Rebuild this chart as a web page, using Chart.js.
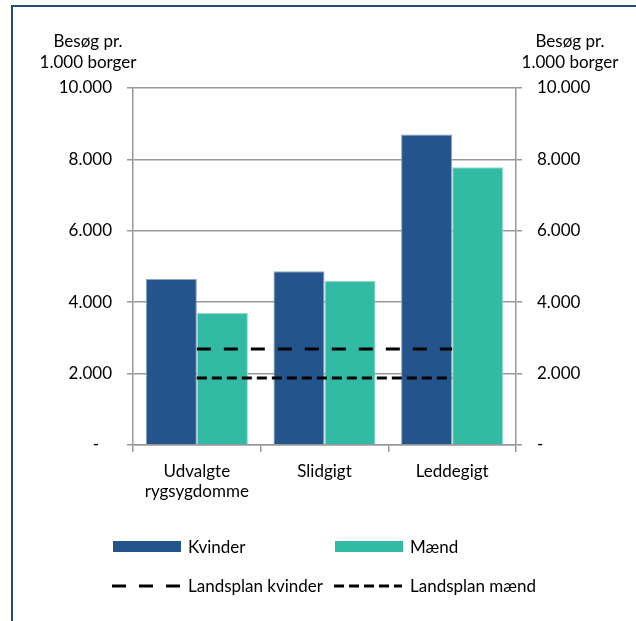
<!DOCTYPE html>
<html>
<head>
<meta charset="utf-8">
<script src="https://cdn.jsdelivr.net/npm/chart.js@4.4.1/dist/chart.umd.min.js"></script>
<style>
  html, body { margin: 0; padding: 0; background: #fff; }
  #wrap { position: relative; width: 636px; height: 621px; overflow: hidden; }
  #frame { position: absolute; left: 11px; top: 5px; right: 0; bottom: 0;
           border-top: 2px solid #1f4e79; border-left: 2px solid #1f4e79; }
  #chart { position: absolute; left: 0; top: 0; }
</style>
</head>
<body>
<div id="wrap">
  <div id="frame"></div>
  <canvas id="chart" width="636" height="621"></canvas>
</div>
<script>
  // data
  var categories = [['Udvalgte', 'rygsygdomme'], 'Slidgigt', 'Leddegigt'];
  var kvinder = [4650, 4870, 8700];
  var maend = [3700, 4600, 7780];
  var landsplanKvinder = [2690, 2690, 2690];
  var landsplanMaend = [1880, 1880, 1880];
  var yTicks = [0, 2000, 4000, 6000, 8000, 10000];
  var yTickLabels = ['-', '2.000', '4.000', '6.000', '8.000', '10.000'];
  var axisTitle = ['Besøg pr.', '1.000 borger'];

  var gridColor = '#989898';
  var font = { family: 'Lato', size: 17 };

  function tickLabel(value, leftSide) {
    var i = yTicks.indexOf(value);
    var txt = i >= 0 ? yTickLabels[i] : '';
    // the zero dash sits a bit further from the axis on the left side
    if (leftSide && txt === '-') txt = '-   ';
    return txt;
  }

  var titlesAndLegend = {
    id: 'titlesAndLegend',
    afterDraw: function (chart) {
      var ctx = chart.ctx;
      ctx.save();
      ctx.font = '17px Lato';
      ctx.fillStyle = '#000';
      ctx.textAlign = 'center';
      ctx.textBaseline = 'alphabetic';
      [88, 570].forEach(function (cx) {
        ctx.fillText(axisTitle[0], cx, 47);
        ctx.fillText(axisTitle[1], cx, 68);
      });

      var slots = [[112, 547], [334, 547], [112, 586], [334, 586]];
      ctx.textAlign = 'left';
      ctx.textBaseline = 'middle';
      chart.data.datasets.forEach(function (ds, i) {
        var x = slots[i][0], y = slots[i][1];
        if (ds.type === 'line') {
          ctx.strokeStyle = ds.borderColor;
          ctx.lineWidth = ds.borderWidth;
          ctx.setLineDash(ds.borderDash);
          ctx.beginPath();
          ctx.moveTo(x, y);
          ctx.lineTo(x + 68, y);
          ctx.stroke();
          ctx.setLineDash([]);
        } else {
          ctx.fillStyle = ds.backgroundColor;
          ctx.fillRect(x + 1, y - 6, 68, 11);
        }
        ctx.fillStyle = '#000';
        ctx.fillText(ds.label, x + 76, y + 1);
      });
      ctx.restore();
    }
  };

  var chart = new Chart(document.getElementById('chart'), {
    type: 'bar',
    data: {
      labels: categories,
      datasets: [
        {
          label: 'Kvinder',
          data: kvinder,
          backgroundColor: '#23548c',
          borderColor: '#8ea4c4',
          borderWidth: 1,
          categoryPercentage: 0.8,
          barPercentage: 1.0,
          order: 2
        },
        {
          label: 'Mænd',
          data: maend,
          backgroundColor: '#32baa4',
          borderColor: '#9adccf',
          borderWidth: 1,
          categoryPercentage: 0.8,
          barPercentage: 1.0,
          order: 2
        },
        {
          type: 'line',
          label: 'Landsplan kvinder',
          data: landsplanKvinder,
          borderColor: '#000',
          borderWidth: 3,
          borderDash: [14, 13],
          pointRadius: 0,
          pointHoverRadius: 0,
          fill: false,
          order: 1
        },
        {
          type: 'line',
          label: 'Landsplan mænd',
          data: landsplanMaend,
          borderColor: '#000',
          borderWidth: 3,
          borderDash: [10, 5],
          pointRadius: 0,
          pointHoverRadius: 0,
          fill: false,
          order: 1
        }
      ]
    },
    options: {
      responsive: false,
      animation: false,
      events: [],
      layout: { padding: { top: 88, left: 0, right: 0, bottom: 0 } },
      plugins: {
        legend: { display: false },
        tooltip: { enabled: false },
        title: { display: false }
      },
      scales: {
        x: {
          offset: true,
          grid: { offset: true, drawOnChartArea: false, drawTicks: true, tickLength: 7, color: gridColor, lineWidth: 1.5 },
          border: { display: true, color: gridColor, width: 1.5 },
          ticks: { color: '#000', font: font, padding: 9, maxRotation: 0, autoSkip: false },
          afterFit: function (scale) { scale.height = 176; }
        },
        y: {
          position: 'left',
          min: 0,
          max: 10000,
          afterBuildTicks: function (scale) {
            scale.ticks = yTicks.map(function (v) { return { value: v }; });
          },
          grid: { color: gridColor, lineWidth: 1.5, tickLength: 6 },
          border: { display: true, color: gridColor, width: 1.5 },
          ticks: {
            color: '#000', font: font, padding: 15,
            callback: function (value) { return tickLabel(value, true); }
          },
          afterFit: function (scale) { scale.width = 133; }
        },
        y2: {
          position: 'right',
          min: 0,
          max: 10000,
          afterBuildTicks: function (scale) {
            scale.ticks = yTicks.map(function (v) { return { value: v }; });
          },
          grid: { drawOnChartArea: false, color: gridColor, lineWidth: 1.5, tickLength: 6 },
          border: { display: true, color: gridColor, width: 1.5 },
          ticks: {
            color: '#000', font: font, padding: 15,
            callback: function (value) { return tickLabel(value, false); }
          },
          afterFit: function (scale) { scale.width = 120; }
        }
      }
    },
    plugins: [titlesAndLegend]
  });
</script>
</body>
</html>
